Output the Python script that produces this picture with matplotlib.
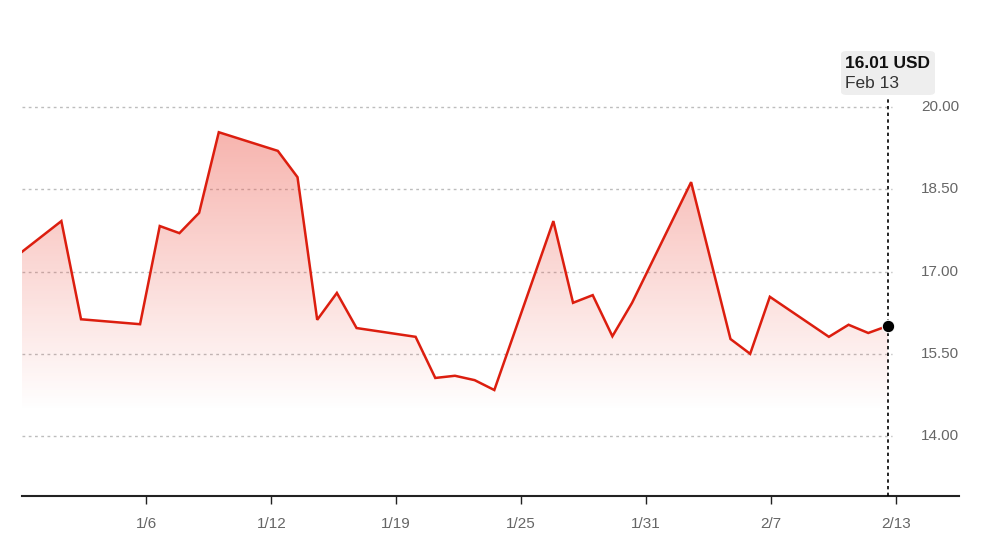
import numpy as np
import pandas as pd
import matplotlib.pyplot as plt
from matplotlib.colors import ListedColormap
from matplotlib.patches import FancyBboxPatch
from matplotlib.transforms import blended_transform_factory

# price data (USD)
dates = pd.to_datetime([
    '2024-12-31', '2025-01-02', '2025-01-03', '2025-01-06', '2025-01-07',
    '2025-01-08', '2025-01-09', '2025-01-10', '2025-01-13', '2025-01-14',
    '2025-01-15', '2025-01-16', '2025-01-17', '2025-01-20', '2025-01-21',
    '2025-01-22', '2025-01-23', '2025-01-24', '2025-01-27', '2025-01-28',
    '2025-01-29', '2025-01-30', '2025-01-31', '2025-02-03', '2025-02-05',
    '2025-02-06', '2025-02-07', '2025-02-10', '2025-02-11', '2025-02-12',
    '2025-02-13'])
prices = [17.36, 17.92, 16.13, 16.04, 17.83,
          17.70, 18.07, 19.54, 19.20, 18.72,
          16.12, 16.61, 15.97, 15.81, 15.06,
          15.10, 15.02, 14.84, 17.92, 16.43,
          16.57, 15.82, 16.43, 18.63, 15.77,
          15.50, 16.54, 15.81, 16.03, 15.88,
          16.01]
tick_labels = ['1/6', '1/12', '1/19', '1/25', '1/31', '2/7', '2/13']
y_ticks = [14.00, 15.50, 17.00, 18.50, 20.00]

start = dates[0]
x = np.array([(d - start).days for d in dates], dtype=float)
y = np.array(prices)

plt.rcParams['font.family'] = ['Liberation Sans', 'DejaVu Sans']

W, H = 1006, 548
fig = plt.figure(figsize=(W / 100, H / 100), dpi=100)
ax = fig.add_axes([22 / W, 52 / H, (959 - 22) / W, 496 / H])

red = '#dc1e0f'
px_per_unit = 54.85
px_per_day = 19.68

# gradient fill under the line (fades out near the bottom)
base = 14.45
line_fill = ax.fill_between(x, y, base, facecolor='none', edgecolor='none')
t = np.linspace(0, 1, 256)
colors = np.zeros((256, 4))
colors[:, 0], colors[:, 1], colors[:, 2] = 0.93, 0.33, 0.28
colors[:, 3] = 0.44 * t
img = ax.imshow(t.reshape(-1, 1), extent=[x[0], x[-1], base, y.max()], origin='lower',
                aspect='auto', cmap=ListedColormap(colors), zorder=1)
img.set_clip_path(line_fill.get_paths()[0], transform=ax.transData)

ax.plot(x, y, color=red, lw=1.8, zorder=3, solid_joinstyle='miter')

# gridlines + right labels
trans = blended_transform_factory(ax.transAxes, ax.transData)
for v in y_ticks:
    ax.plot([x[0], x[-1] + 0.2], [v, v], color='#bdbdbd', lw=1, ls=(0, (2, 2.5)), zorder=0)
    ax.text(1.0, v, f'{v:.2f}', transform=trans, ha='right', va='center',
            fontsize=11, color='#666666')

ax.set_xlim(0, (959 - 22) / px_per_day)
ax.set_ylim(20 - (496 - 107) / px_per_unit, 20 + 107 / px_per_unit)

# ticks evenly spaced across the range
t0 = (pd.Timestamp('2025-01-06') - start).days + 0.32
t1 = (pd.Timestamp('2025-02-13') - start).days + 0.4
ax.set_xticks(np.linspace(t0, t1, len(tick_labels)))
ax.set_xticklabels(tick_labels)
ax.tick_params(axis='x', length=6, width=1, color='#222222', labelsize=11,
               labelcolor='#666666', pad=9)
ax.set_yticks([])
for s in ['top', 'right', 'left']:
    ax.spines[s].set_visible(False)
ax.spines['bottom'].set_linewidth(1.5)
ax.spines['bottom'].set_color('#222222')

# hover marker
ax.axvline(x[-1], ymin=0, ymax=(496 - 96) / 496, color='black', lw=1.2,
           ls=(0, (2, 2)), zorder=4)
ax.plot([x[-1]], [y[-1]], 'o', color='black', ms=9, mec='white', mew=0.8, zorder=5)

box = FancyBboxPatch((841 / W, 1 - 95 / H), 94 / W, 44 / H,
                     boxstyle='round,pad=0,rounding_size=0.006',
                     transform=fig.transFigure, fc='#eeeeee', ec='none')
fig.patches.append(box)
fig.text(845 / W, 1 - 63 / H, f'{y[-1]:.2f} USD', fontsize=12.5, fontweight='bold',
         color='#111111', va='center', ha='left')
fig.text(845 / W, 1 - 84 / H, 'Feb 13', fontsize=12.5, color='#333333', va='center', ha='left')

fig.savefig('out.png', dpi=100)
